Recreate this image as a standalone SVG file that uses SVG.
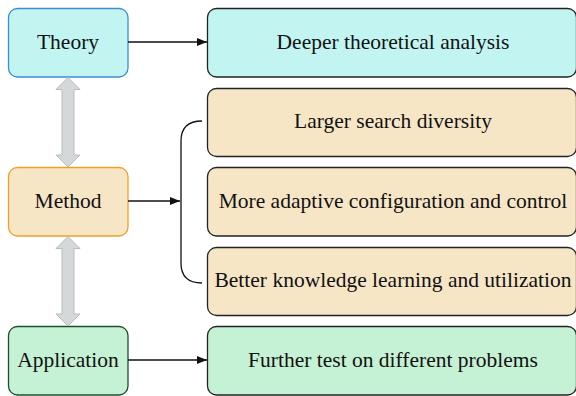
<svg xmlns="http://www.w3.org/2000/svg" width="576" height="396" viewBox="0 0 576 396">
<defs>
<style>
text{font-family:"Liberation Serif","Times New Roman",serif;font-size:21.5px;fill:#111;text-anchor:middle}
.box{stroke-width:1.3}
.cyan{fill:#c2f5f1}
.tan{fill:#f7e6c6}
.green{fill:#c5f1d4}
.dark{stroke:#222}
.line{stroke:#111;stroke-width:1.3;fill:none}
.dbl{fill:#d5d8d9;stroke:#b8bcbe;stroke-width:1}
</style>
<marker id="ah" viewBox="0 0 10 10" refX="10" refY="5" markerWidth="10" markerHeight="10" markerUnits="userSpaceOnUse" orient="auto">
<path d="M0,1 L10,5 L0,9 Z" fill="#111"/>
</marker>
</defs>
<g id="theory"><rect class="box cyan" x="8.5" y="8.5" width="119.5" height="68.5" rx="9" stroke="#3b8fd0"/><text x="68" y="49">Theory</text></g>
<g id="method"><rect class="box tan" x="8.5" y="167.5" width="119.5" height="68.5" rx="9" stroke="#f0a02a"/><text x="68" y="208">Method</text></g>
<g id="application"><rect class="box green" x="8.5" y="326.5" width="119.5" height="68.5" rx="9" stroke="#1c4f2c"/><text x="68" y="367">Application</text></g>
<g id="deeper"><rect class="box cyan dark" x="207.5" y="8.5" width="369" height="68.5" rx="9"/><text x="393" y="49">Deeper theoretical analysis</text></g>
<g id="larger"><rect class="box tan dark" x="207.5" y="88.5" width="369" height="68" rx="9"/><text x="393" y="128">Larger search diversity</text></g>
<g id="adaptive"><rect class="box tan dark" x="207.5" y="167.5" width="369" height="68.5" rx="9"/><text x="393" y="208">More adaptive configuration and control</text></g>
<g id="knowledge"><rect class="box tan dark" x="207.5" y="247.5" width="369" height="68" rx="9"/><text x="393" y="287">Better knowledge learning and utilization</text></g>
<g id="further"><rect class="box green dark" x="207.5" y="326.5" width="369" height="68.5" rx="9"/><text x="393" y="367">Further test on different problems</text></g>
<g id="connectors">
<line class="line" x1="128" y1="42" x2="207" y2="42" marker-end="url(#ah)"/>
<line class="line" x1="128" y1="201" x2="180" y2="201" marker-end="url(#ah)"/>
<line class="line" x1="128" y1="360" x2="207" y2="360" marker-end="url(#ah)"/>
<path class="line" d="M202,121 Q181,121 181,141 L181,263 Q181,283 202,283"/>
<path class="dbl" d="M68,77.5 L80,89.5 L74,89.5 L74,155 L80,155 L68,167 L56,155 L62,155 L62,89.5 L56,89.5 Z"/>
<path class="dbl" d="M68,236.5 L80,248.5 L74,248.5 L74,314 L80,314 L68,326 L56,314 L62,314 L62,248.5 L56,248.5 Z"/>
</g>
</svg>
